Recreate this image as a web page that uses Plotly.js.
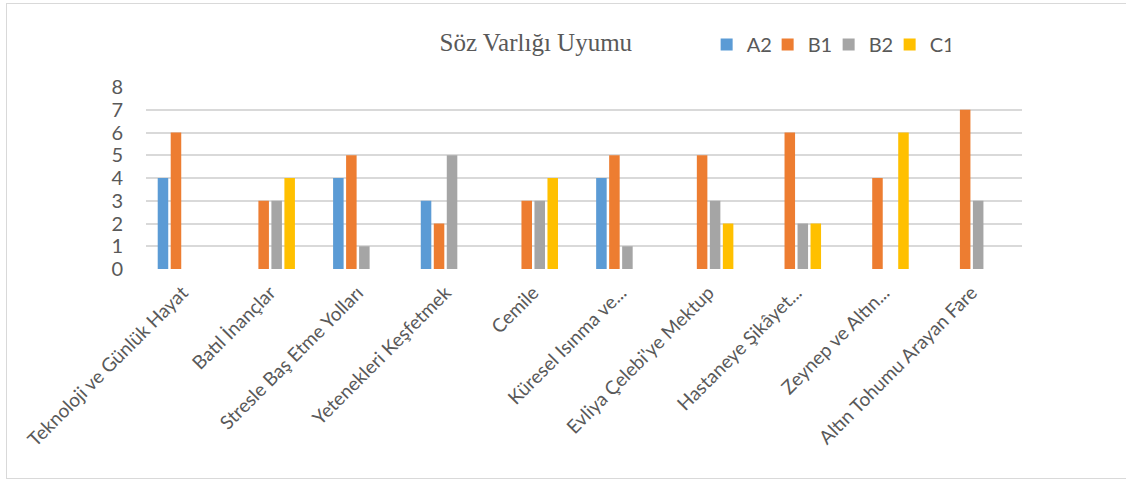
<!DOCTYPE html>
<html>
<head>
<meta charset="utf-8">
<script src="https://cdn.plot.ly/plotly-3.0.1.min.js"></script>
<style>
html,body{margin:0;padding:0;background:#fff;}
#wrap{position:relative;width:1126px;height:480px;}
#chart{position:absolute;left:0;top:0;width:1126px;height:480px;}
#frame{position:absolute;left:6px;top:3px;width:1124px;height:474px;border:1.5px solid #d9d9d9;pointer-events:none;}
</style>
</head>
<body>
<div id="wrap"><div id="chart"></div><div id="frame"></div></div>
<script>
const categories = [
  "Teknoloji ve Günlük Hayat",
  "Batıl İnançlar",
  "Stresle Baş Etme Yolları",
  "Yetenekleri Keşfetmek",
  "Cemile",
  "Küresel Isınma ve...",
  "Evliya Çelebi'ye Mektup",
  "Hastaneye Şikâyet...",
  "Zeynep ve Altın...",
  "Altın Tohumu Arayan Fare"
];
const seriesNames = ["A2", "B1", "B2", "C1"];
const A2 = [4, 0, 4, 3, 0, 4, 0, 0, 0, 0];
const B1 = [6, 3, 5, 2, 3, 5, 5, 6, 4, 7];
const B2 = [0, 3, 1, 5, 3, 1, 3, 2, 0, 3];
const C1 = [0, 4, 0, 0, 4, 0, 2, 2, 6, 0];
const colors = ["#5B9BD5", "#ED7D31", "#A5A5A5", "#FFC000"];
const yTicks = [0, 1, 2, 3, 4, 5, 6, 7, 8];

const values = [A2, B1, B2, C1];
const traces = seriesNames.map((n, i) => ({
  type: "bar",
  name: n,
  x: categories.map((c, k) => k),
  y: values[i],
  marker: {color: colors[i]},
  hoverinfo: "x+y+name"
}));

const layout = {
  width: 1126,
  height: 480,
  margin: {l: 146, r: 104, t: 87, b: 211, pad: 0},
  paper_bgcolor: "#ffffff",
  plot_bgcolor: "#ffffff",
  font: {family: "Lato, sans-serif", color: "#595959"},
  barmode: "group",
  bargap: 0.407,
  bargroupgap: 0.19,
  title: {
    text: "Söz Varlığı Uyumu",
    font: {family: "Liberation Serif, serif", size: 25, color: "#595959"},
    x: 0.445, xref: "paper", xanchor: "center",
    y: 0.912, yref: "container", yanchor: "middle"
  },
  showlegend: true,
  legend: {
    orientation: "h",
    x: 0.64, xanchor: "left",
    y: 1.234, yanchor: "middle",
    font: {family: "Lato, sans-serif", size: 20, color: "#595959"},
    entrywidth: 16, entrywidthmode: "pixels",
    itemwidth: 30,
    traceorder: "normal"
  },
  xaxis: {
    type: "linear",
    range: [-0.416, 9.574],
    tickmode: "array",
    tickvals: categories.map((c, k) => k),
    ticktext: categories,
    tickangle: -45,
    tickfont: {family: "Lato, sans-serif", size: 19, color: "#595959"},
    showgrid: false,
    zeroline: false,
    showline: false,
    ticks: "",
    ticklabelstandoff: 8
  },
  yaxis: {
    range: [0, 8],
    tickmode: "array",
    tickvals: yTicks,
    ticktext: yTicks.map(String),
    tickfont: {family: "Lato, sans-serif", size: 20, color: "#595959"},
    showgrid: true,
    gridcolor: "#d9d9d9",
    gridwidth: 1.5,
    zeroline: false,
    showline: false,
    ticks: "",
    ticklabelstandoff: 22
  }
};

Plotly.newPlot("chart", traces, layout, {displayModeBar: false, staticPlot: false});
</script>
</body>
</html>
